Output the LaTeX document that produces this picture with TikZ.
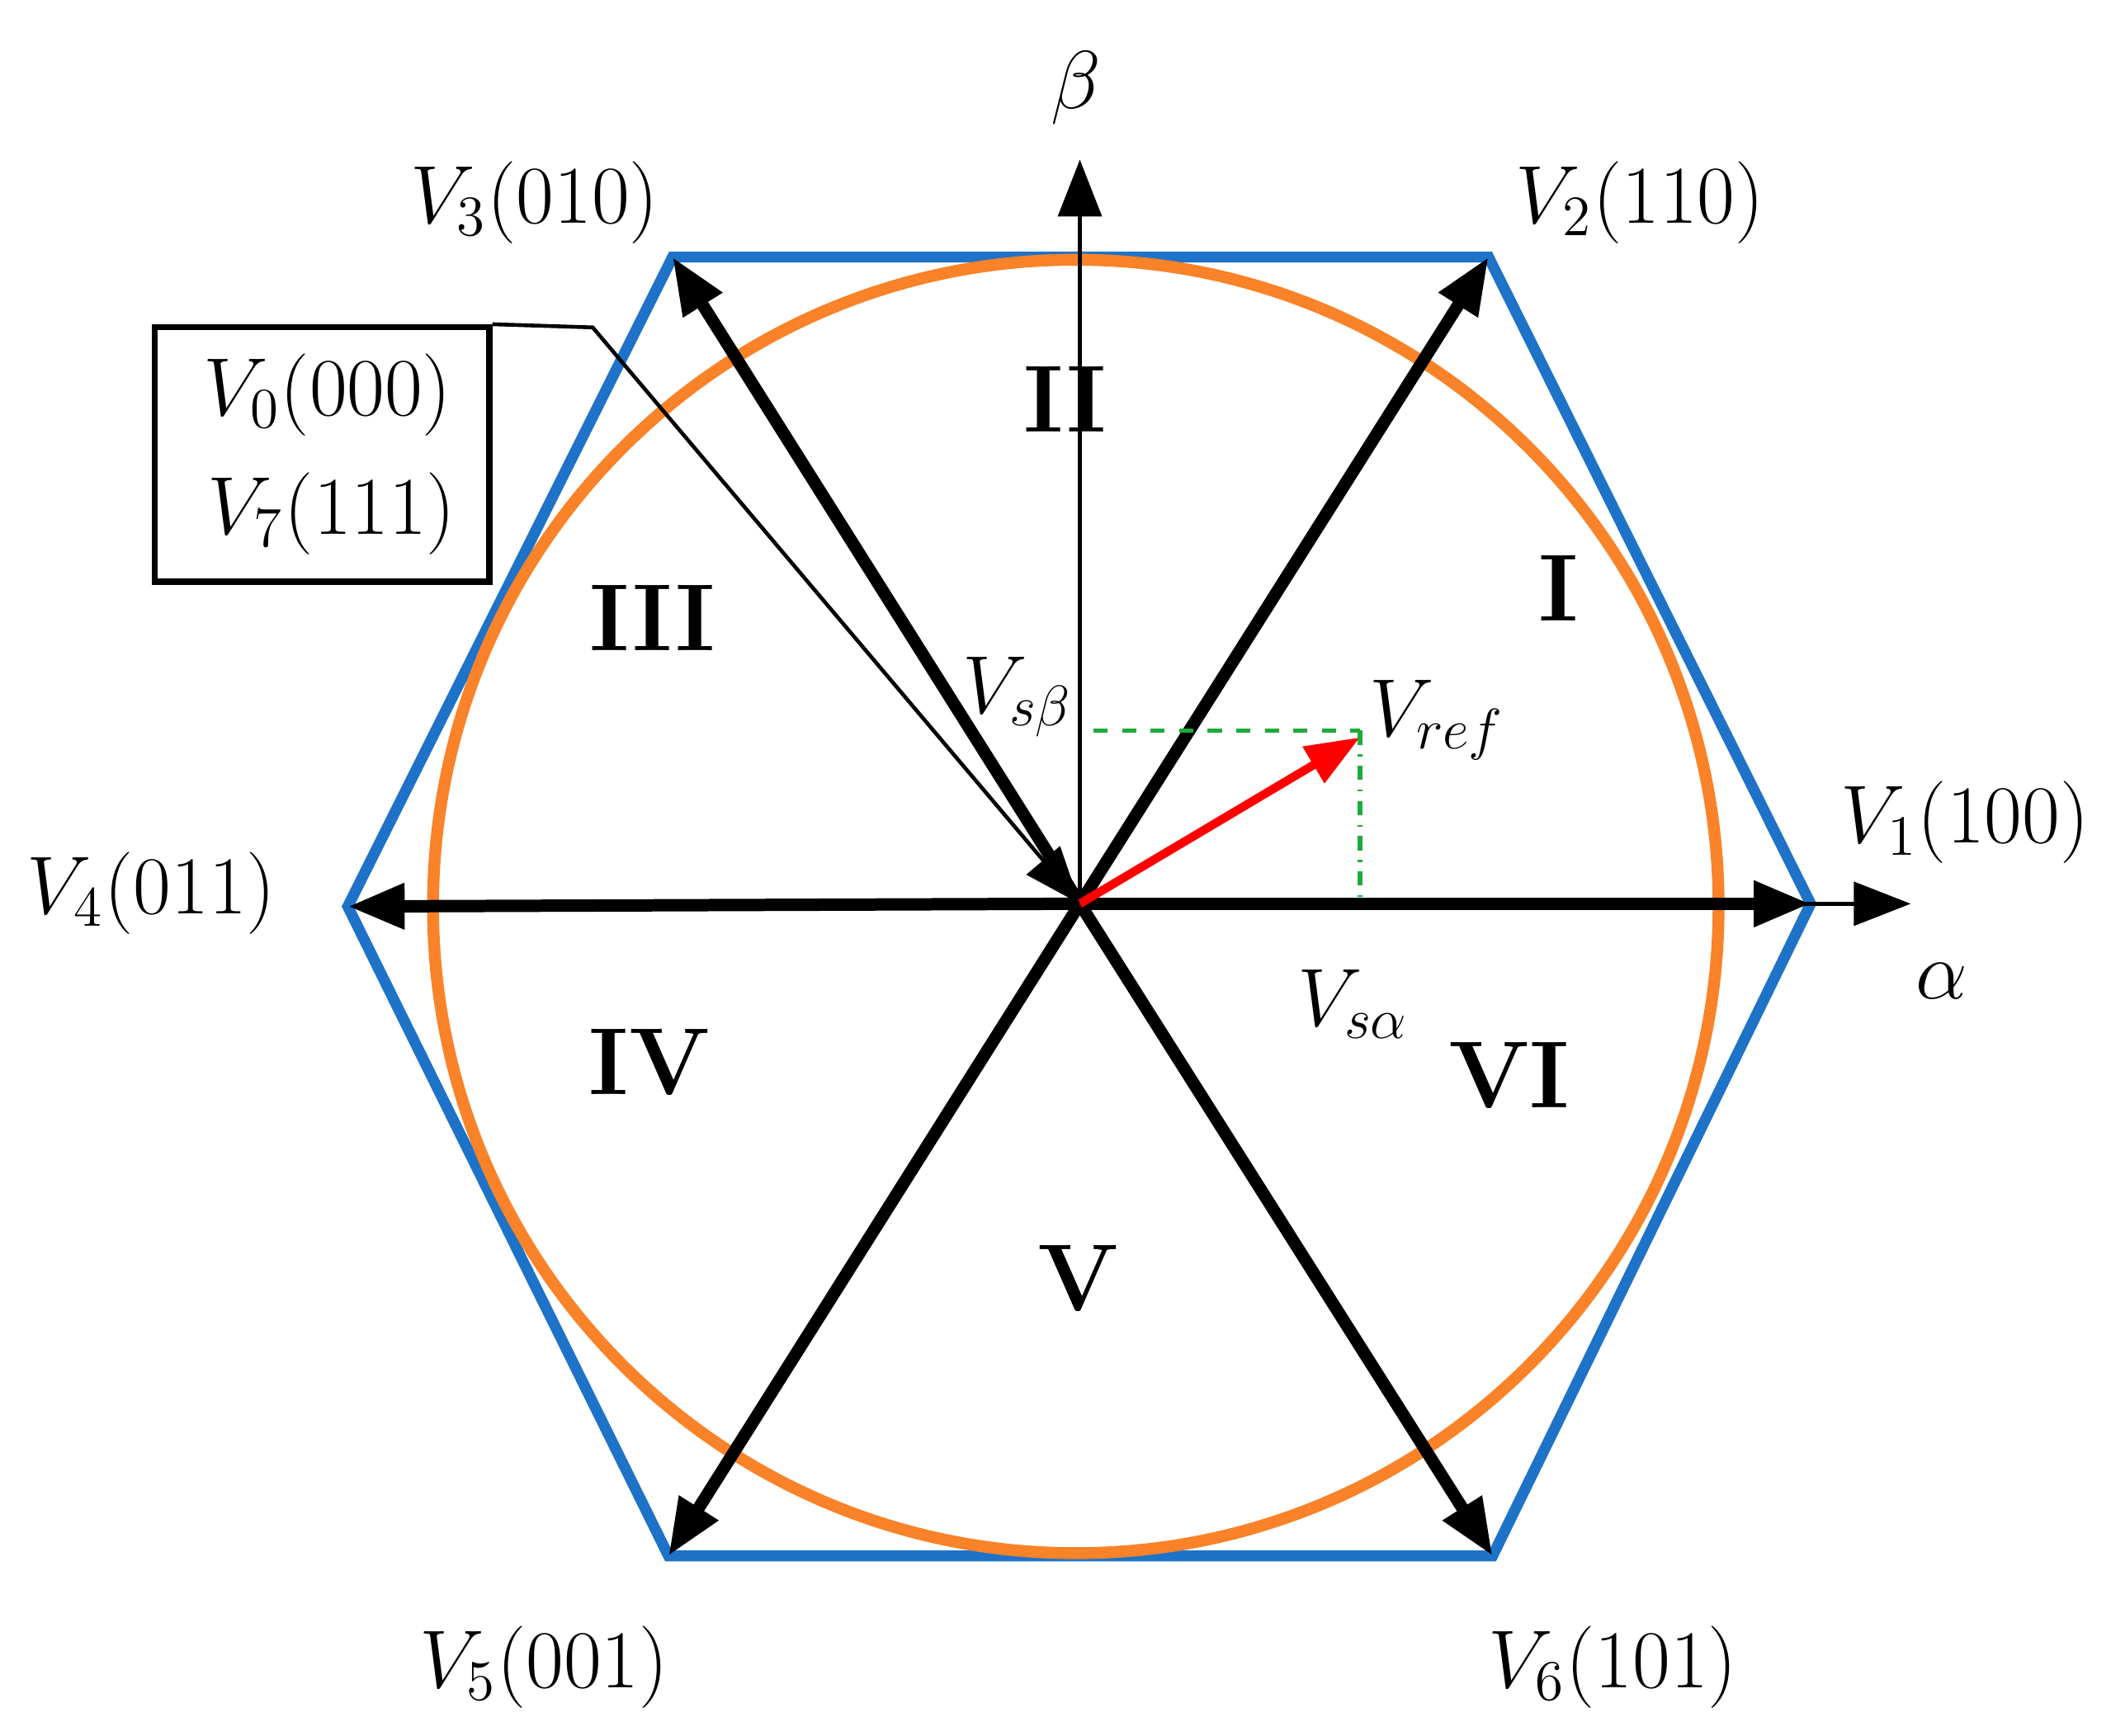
\documentclass[tikz,border=0pt]{standalone}
\usetikzlibrary{arrows.meta}
\definecolor{hexblue}{RGB}{30,115,200}
\definecolor{circor}{RGB}{250,130,40}
\definecolor{gr}{RGB}{30,170,60}
\tikzset{
 vec/.style={line width=2.6pt,-{Triangle[length=0.42cm,width=0.32cm]}},
 ax/.style={line width=0.9pt,-{Triangle[length=0.42cm,width=0.32cm]}},
 lab/.style={font=\fontsize{18}{22}\selectfont},
 sec/.style={font=\fontsize{20}{24}\selectfont\bfseries}
}
\begin{document}
\begin{tikzpicture}[x=0.01cm,y=-0.01cm]
\useasboundingbox (0,0) rectangle (1560,1283);
\coordinate (O) at (798,668);
\coordinate (P1) at (1338,668);
\coordinate (P2) at (1100,190);
\coordinate (P3) at (497,190);
\coordinate (P4) at (257,670);
\coordinate (P5) at (494,1150);
\coordinate (P6) at (1103,1150);
\draw[hexblue,line width=2.3pt] (P1)--(P2)--(P3)--(P4)--(P5)--(P6)--cycle;
\draw[circor,line width=2.5pt] (795,670) ellipse (475 and 478);
\coordinate (B) at (798,118);
\coordinate (A) at (1412,668);
\draw[ax] (O)--(B);
\draw[ax] (O)--(A);
\foreach \p in {P1,P2,P3,P4,P5,P6} \draw[vec] (O)--(\p);
\coordinate (R) at (1005,545);
\draw[red,line width=1.8pt,-{Triangle[length=0.4cm,width=0.3cm]}] (O)--(R);
\coordinate (G1) at (808,540);
\coordinate (G2) at (1005,540);
\coordinate (G3) at (1005,665);
\draw[gr,dashed,line width=1pt] (G1)--(G2);
\draw[gr,dash dot,line width=1pt] (G2)--(G3);
\node[draw,line width=1.3pt,minimum width=2.47cm,minimum height=1.88cm] (box) at (238,336) {};
\node[lab] (v0) at (242,292) {$V_0(000)$};
\node[lab] (v7) at (245,380) {$V_7(111)$};
\coordinate (K) at (438,242);
\draw[line width=0.8pt,-{Triangle[length=0.42cm,width=0.32cm]}] (box.north east)--(K)--(O);
\node[lab] at (395,150) {$V_3(010)$};
\node[lab] at (1212,150) {$V_2(110)$};
\node[lab] at (112,660) {$V_4(011)$};
\node[lab] at (1452,608) {$V_1(100)$};
\node[lab] at (402,1232) {$V_5(001)$};
\node[lab] at (1192,1232) {$V_6(101)$};
\node[lab] at (795,65) {$\beta$};
\node[lab] at (1435,725) {$\alpha$};
\node[lab] at (752,515) {$V_{s\beta}$};
\node[lab] at (1062,532) {$V_{ref}$};
\node[lab] at (1000,742) {$V_{s\alpha}$};
\node[sec] at (787,295) {II};
\node[sec] at (1152,435) {I};
\node[sec] at (482,457) {III};
\node[sec] at (480,785) {IV};
\node[sec] at (1115,795) {VI};
\node[sec] at (797,945) {V};
\end{tikzpicture}
\end{document}
